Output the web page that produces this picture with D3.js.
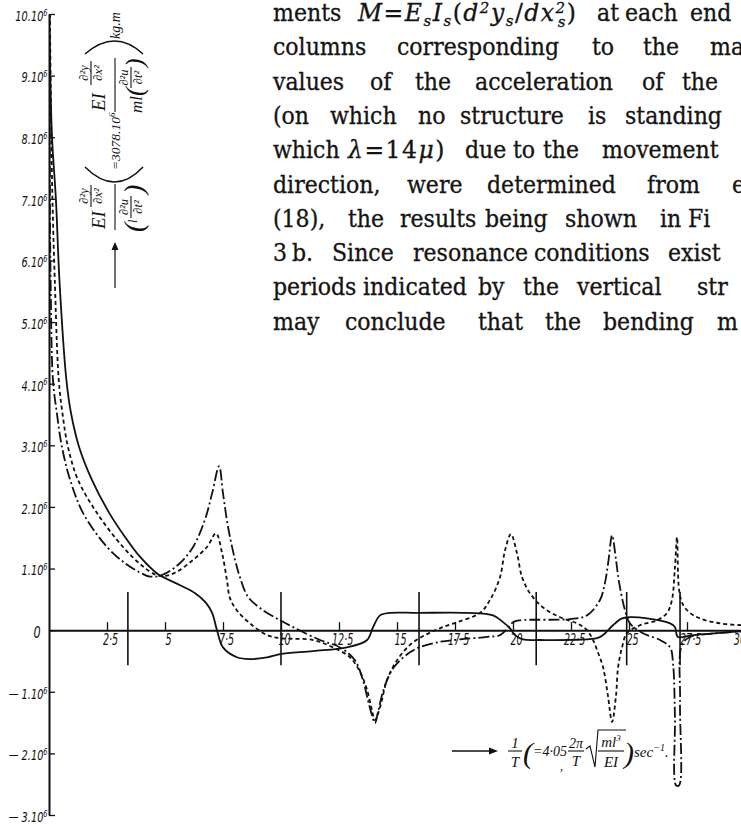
<!DOCTYPE html>
<html>
<head>
<meta charset="utf-8">
<script src="https://cdn.jsdelivr.net/npm/d3@7"></script>
<style>
  body { margin: 0; background: #fff; }
  svg { display: block; }
  .axis path, .axis line { stroke: #111; }
  .axis text { font-family: "DejaVu Sans", sans-serif; font-style: italic; fill: #111; }
  .para { font-family: "DejaVu Serif Condensed", "DejaVu Serif", serif; font-stretch: condensed; font-size: 24.5px; fill: #141414; stroke: #141414; stroke-width: 0.3px; }
  .mathword { font-family: "DejaVu Serif", serif; font-stretch: normal; font-size: 23.5px; letter-spacing: 1.5px; }
  .math { font-family: "Liberation Serif", serif; font-style: italic; fill: #111; }
</style>
</head>
<body>
<div id="chart"></div>
<script>
"use strict";

// x in the figure's unit (1/T), y in units of 10^6 kg.m
let xTicks = [2.5, 5, 7.5, 10, 12.5, 15, 17.5, 20, 22.5, 25, 27.5, 30];
let xTickLabels = ["2·5", "5", "7·5", "10", "12·5", "15", "17·5", "20", "22·5", "25", "27·5", "30"];
let yTicks = [-3, -2, -1, 0, 1, 2, 3, 4, 5, 6, 7, 8, 9, 10];

// resonance strips
let resonanceX = [3.4, 10, 15.95, 21, 24.9, 27.2];
let stripSpan = [-0.57, 0.62];

let solidCurve = [
  [0, 10.0], [0.04, 9.25], [0.13, 8.0], [0.30, 6.98], [0.45, 5.68], [0.75, 4.06], [0.95, 3.52],
  [1.30, 2.97], [1.85, 2.44], [2.60, 1.90], [3.30, 1.50], [3.90, 1.20], [4.66, 0.92], [5.65, 0.73],
  [6.30, 0.60], [6.75, 0.45], [7.03, 0.28], [7.24, 0], [7.5, -0.28], [8.10, -0.44], [8.66, -0.47],
  [9.40, -0.44], [9.96, -0.39], [11.38, -0.34], [12.84, -0.28], [13.71, -0.16], [13.97, 0.05],
  [14.27, 0.24], [14.70, 0.28], [15.86, 0.28], [18.02, 0.28], [19.14, 0.24], [19.57, 0.13],
  [19.87, 0.03], [20.09, -0.08], [20.43, -0.15], [21.16, -0.16], [23.62, -0.13], [23.88, -0.08],
  [24.31, 0.08], [24.70, 0.19], [25.04, 0.21], [25.78, 0.19], [26.77, 0.11], [26.98, 0.05],
  [27.11, -0.11], [27.76, -0.08], [29.83, -0.02]
];

let dashDotCurve = [
  [0.02, 10.0], [0.03, 8.0], [0.04, 6.98], [0.07, 5.68], [0.17, 4.06], [0.34, 3.52], [0.56, 2.97],
  [0.91, 2.44], [1.47, 1.90], [2.50, 1.35], [3.30, 1.08], [3.90, 0.94], [4.35, 0.87], [4.91, 0.90],
  [5.65, 1.09], [6.21, 1.35], [6.72, 1.79], [7.03, 2.22], [7.33, 2.66], [7.50, 2.22], [7.72, 1.67],
  [8.02, 1.14], [8.23, 0.86], [8.58, 0.54], [9.20, 0.33], [9.96, 0.16], [10.52, 0.05], [11.68, -0.16],
  [12.54, -0.28], [13.19, -0.49], [13.53, -0.81], [13.75, -1.14], [13.92, -1.38], [14.05, -1.51],
  [14.18, -1.33], [14.35, -1.06], [14.57, -0.81], [14.83, -0.62], [15.13, -0.49], [15.56, -0.36],
  [15.95, -0.28], [16.85, -0.19], [17.72, -0.15], [18.88, -0.11], [19.44, -0.08], [19.74, 0.02],
  [20.0, 0.13], [20.30, 0.16], [22.46, 0.18], [23.19, 0.24], [23.75, 0.49], [23.97, 0.78],
  [24.12, 1.14], [24.27, 1.54], [24.44, 1.14], [24.57, 0.78], [24.83, 0.32], [25.04, 0.11],
  [25.60, -0.05], [26.34, -0.16], [26.77, -0.28], [26.90, -0.55], [26.98, -1.4], [27.03, -2.52],
  [27.16, -2.52], [27.2, -1.14], [27.28, -0.24], [27.63, -0.11], [28.49, -0.06], [29.83, -0.02]
];

let dottedCurve = [
  [0.04, 10.0], [0.10, 8.0], [0.15, 6.98], [0.25, 5.68], [0.42, 4.06], [0.58, 3.52], [0.82, 2.97],
  [1.25, 2.44], [2.07, 1.90], [3.19, 1.35], [4.00, 1.05], [4.60, 0.90], [5.00, 0.88], [5.52, 0.95],
  [6.21, 1.14], [6.81, 1.35], [7.20, 1.57], [7.46, 1.25], [7.67, 0.81], [7.80, 0.52], [8.10, 0.32],
  [8.66, 0.11], [9.40, -0.08], [9.96, -0.13], [11.38, -0.16], [12.24, -0.28], [12.97, -0.44],
  [13.41, -0.68], [13.71, -0.97], [13.92, -1.30], [14.05, -1.46], [14.27, -1.25], [14.57, -0.81],
  [15.0, -0.49], [15.56, -0.24], [16.21, -0.08], [16.85, 0.03], [17.59, 0.13], [18.58, 0.28],
  [19.01, 0.49], [19.44, 0.86], [19.66, 1.30], [19.91, 1.56], [20.17, 1.25], [20.39, 0.86],
  [20.73, 0.60], [21.29, 0.37], [22.03, 0.21], [22.76, 0.11], [23.19, 0], [23.45, -0.16],
  [23.62, -0.32], [23.88, -0.60], [24.09, -1.06], [24.27, -1.49], [24.44, -1.06], [24.53, -0.60],
  [24.70, -0.28], [24.91, -0.05], [25.47, 0.08], [26.21, 0.16], [26.64, 0.28], [26.85, 0.49],
  [26.98, 1.02], [27.07, 1.51], [27.16, 0.65], [27.33, 0.41], [27.63, 0.28], [28.06, 0.19],
  [28.92, 0.11], [29.83, 0.08]
];

// running text beside the figure: [[x, word], ...] per line
let textLines = [
  [[273, "ments"], [358, [["M", "i"], ["=", ""], ["E", "i"], ["s", "sub"], ["I", "i"], ["s", "sub"], ["(", ""], ["d", "i"], ["2", "sup"], ["y", "i"], ["s", "sub"], ["/", ""], ["dx", "i"], ["2", "sup"], ["s", "back"], [")", ""]]], [597, "at"], [625, "each"], [690, "end"]],
  [[273, "columns"], [397, "corresponding"], [592, "to"], [643, "the"], [710, "ma"]],
  [[273, "values"], [370, "of"], [415, "the"], [475, "acceleration"], [642, "of"], [682, "the"]],
  [[273, "(on"], [330, "which"], [418, "no"], [460, "structure"], [588, "is"], [625, "standing"]],
  [[273, "which"], [348, [["λ", "i"], ["=14", ""], ["μ", "i"], [")", ""]]], [465, "due"], [513, "to"], [543, "the"], [602, "movement"]],
  [[273, "direction,"], [407, "were"], [487, "determined"], [647, "from"], [732, "ec"]],
  [[273, "(18),"], [348, "the"], [400, "results"], [485, "being"], [565, "shown"], [660, "in"], [688, "Fi"]],
  [[273, "3"], [292, "b."], [332, "Since"], [413, "resonance"], [534, "conditions"], [668, "exist"]],
  [[273, "periods"], [363, "indicated"], [478, "by"], [523, "the"], [577, "vertical"], [697, "str"]],
  [[273, "may"], [345, "conclude"], [478, "that"], [545, "the"], [603, "bending"], [717, "m"]]
];
let firstBaseline = 21;
let lineStep = 34.3;

let width = 741;
let height = 825;

let svg = d3.select("#chart").append("svg")
  .attr("width", width)
  .attr("height", height)
  .attr("viewBox", [0, 0, width, height].join(" "));

let x = d3.scaleLinear().domain([0, 30]).range([49, 745]);
let y = d3.scaleLinear().domain([-3, 10]).range([815, 14]);

// text block
let paraG = svg.append("g");
textLines.forEach(function(line, i) {
  line.forEach(function(w) {
    addWord(paraG, w[0], firstBaseline + i * lineStep, w[1]);
  });
});

function addWord(g, px, py, w) {
  let t = g.append("text").attr("class", "para").attr("x", px).attr("y", py);
  if (typeof w === "string") {
    t.text(w);
    return;
  }
  t.classed("mathword", true);
  let cur = 0;
  w.forEach(function(seg) {
    let kind = seg[1];
    let off = kind === "sub" ? 5 : kind === "sup" ? -8 : kind === "back" ? 6 : 0;
    let sp = t.append("tspan").attr("dy", off - cur).text(seg[0]);
    cur = off;
    if (kind === "i") sp.style("font-style", "italic");
    if (kind === "sub" || kind === "sup" || kind === "back") {
      sp.style("font-size", "15px").style("font-style", "italic");
    }
    if (kind === "back") sp.attr("dx", -9);
  });
}

// axes
let xAxis = svg.append("g")
  .attr("class", "axis")
  .attr("transform", `translate(0, ${y(0)})`)
  .call(d3.axisBottom(x)
    .tickValues(xTicks)
    .tickSizeInner(-8)
    .tickSizeOuter(0)
    .tickPadding(4)
    .tickFormat((d, i) => xTickLabels[i]));
xAxis.select(".domain").attr("stroke-width", 2);
xAxis.selectAll(".tick line").attr("stroke-width", 1.3);
xAxis.selectAll(".tick text")
  .style("font-size", "15.5px")
  .attr("transform", "scale(0.62,1)")
  .attr("dx", (d, i) => i === xTicks.length - 1 ? -9 : 5);

let yAxis = svg.append("g")
  .attr("class", "axis")
  .attr("transform", `translate(${x(0)}, 0)`)
  .call(d3.axisLeft(y)
    .tickValues(yTicks)
    .tickSizeInner(-6)
    .tickSizeOuter(0)
    .tickPadding(2)
    .tickFormat(""));
yAxis.select(".domain").attr("stroke-width", 2);
yAxis.selectAll(".tick line").attr("stroke-width", 1.3);
yAxis.selectAll(".tick text").each(function(d) {
  let t = d3.select(this)
    .attr("dy", "0.45em")
    .style("font-size", "14px")
    .attr("transform", "scale(0.7,1)");
  if (d === 0) {
    t.attr("x", -12).style("font-size", "16px").text("0");
    return;
  }
  t.append("tspan").text((d < 0 ? "— " : "") + Math.abs(d) + ".10");
  t.append("tspan").attr("dy", -5).style("font-size", "9.5px").text("6");
});

// resonance strips
svg.append("g").selectAll("line")
  .data(resonanceX)
  .enter().append("line")
  .attr("x1", d => x(d))
  .attr("x2", d => x(d))
  .attr("y1", y(stripSpan[1]))
  .attr("y2", y(stripSpan[0]))
  .attr("stroke", "#111")
  .attr("stroke-width", 1.6);

// curves
svg.append("clipPath").attr("id", "plotClip")
  .append("rect").attr("x", x(0)).attr("y", 10).attr("width", width - x(0)).attr("height", 810);

let lineGen = d3.line()
  .x(d => x(d[0]))
  .y(d => y(d[1]))
  .curve(d3.curveCatmullRom.alpha(0.5));

let curveG = svg.append("g").attr("clip-path", "url(#plotClip)");

curveG.append("path")
  .attr("d", lineGen(solidCurve))
  .attr("fill", "none")
  .attr("stroke", "#111")
  .attr("stroke-width", 1.8);

curveG.append("path")
  .attr("d", lineGen(dashDotCurve))
  .attr("fill", "none")
  .attr("stroke", "#111")
  .attr("stroke-width", 1.8)
  .attr("stroke-dasharray", "11,3,2,3");

curveG.append("path")
  .attr("d", lineGen(dottedCurve))
  .attr("fill", "none")
  .attr("stroke", "#111")
  .attr("stroke-width", 1.8)
  .attr("stroke-dasharray", "4,3");

// x axis title
let xt = svg.append("g");
xt.append("line").attr("x1", 452).attr("x2", 492).attr("y1", 751).attr("y2", 751)
  .attr("stroke", "#111").attr("stroke-width", 1.4);
xt.append("path").attr("d", "M498,751 L489,747.5 L489,754.5 Z").attr("fill", "#111");

function mtext(g, px, py, size, str, anchor) {
  return g.append("text").attr("class", "math")
    .attr("x", px).attr("y", py)
    .attr("text-anchor", anchor || "start")
    .style("font-size", size + "px")
    .text(str);
}
function bar(g, x1, x2, yy) {
  g.append("line").attr("x1", x1).attr("x2", x2).attr("y1", yy).attr("y2", yy)
    .attr("stroke", "#111").attr("stroke-width", 1.1);
}

mtext(xt, 515, 748, 15, "1", "middle");
bar(xt, 508, 522, 751);
mtext(xt, 515, 767, 15, "T", "middle");
mtext(xt, 523, 763, 30, "(");
mtext(xt, 533, 756, 14, "=4·05");
mtext(xt, 560, 770, 12, ",");
mtext(xt, 576, 748, 14, "2π", "middle");
bar(xt, 568, 584, 751);
mtext(xt, 576, 766, 15, "T", "middle");
xt.append("path").attr("d", "M586,749 L590,746 L595,767 L598,730 L626,730")
  .attr("fill", "none").attr("stroke", "#111").attr("stroke-width", 1.1);
let mlt = mtext(xt, 611, 747, 15, "ml", "middle");
mlt.append("tspan").attr("dy", -6).style("font-size", "9px").text("3");
bar(xt, 598, 624, 751);
mtext(xt, 611, 767, 15, "EI", "middle");
mtext(xt, 624, 763, 30, ")");
let sec = mtext(xt, 634, 757, 15, "sec");
sec.append("tspan").attr("dy", -6).style("font-size", "10px").text("−1");
sec.append("tspan").attr("dy", 6).text(".");

// y axis title, rotated: local u runs up the page, local v runs right
let yt = svg.append("g").attr("transform", "translate(115, 290) rotate(-90)");
yt.append("line").attr("x1", 2).attr("x2", 42).attr("y1", 0).attr("y2", 0)
  .attr("stroke", "#111").attr("stroke-width", 1.2);
yt.append("path").attr("d", "M48,0 L40,-3.5 L40,3.5 Z").attr("fill", "#111");

function smallFrac(g, u, vBar, top, bottom, len) {
  mtext(g, u + len / 2, vBar - 3, 12.5, top, "middle");
  bar(g, u, u + len, vBar);
  mtext(g, u + len / 2, vBar + 11, 12.5, bottom, "middle");
}

// first fraction
bar(yt, 60, 106, 0);
mtext(yt, 61, -10, 19, "EI");
smallFrac(yt, 83, -24, "∂²y", "∂x²", 22);
mtext(yt, 58, 28, 28, "(");
mtext(yt, 67, 22, 12, "l");
smallFrac(yt, 72, 16, "∂²u", "∂t²", 22);
mtext(yt, 96, 28, 28, ")");

yt.append("path").attr("d", "M123,-30 Q93,0 123,28")
  .attr("fill", "none").attr("stroke", "#111").attr("stroke-width", 1.5);

let eqT = mtext(yt, 120, 5, 13.5, "=3078.10");
eqT.append("tspan").attr("dy", -5).style("font-size", "9px").text("6");

// second fraction
bar(yt, 178, 232, 0);
mtext(yt, 179, -10, 19, "EI");
smallFrac(yt, 205, -24, "∂²y", "∂x²", 24);
mtext(yt, 177, 27, 17, "ml");
mtext(yt, 194, 28, 26, "(");
smallFrac(yt, 202, 16, "∂²u", "∂t²", 21);
mtext(yt, 223, 28, 26, ")");

yt.append("path").attr("d", "M236,-30 Q262,0 236,28")
  .attr("fill", "none").attr("stroke", "#111").attr("stroke-width", 1.5);

mtext(yt, 251, 5, 14, "kg.m");
</script>
</body>
</html>
